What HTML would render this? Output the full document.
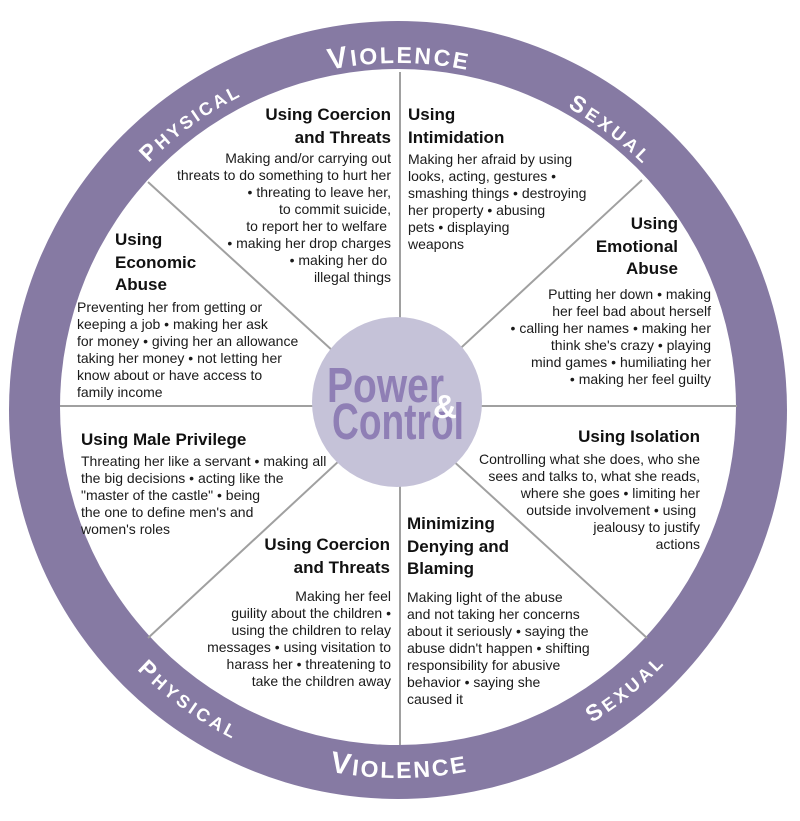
<!DOCTYPE html>
<html><head><meta charset="utf-8"><style>
html,body{margin:0;padding:0;background:#fff;}
#w{position:relative;width:800px;height:821px;overflow:hidden;font-family:"Liberation Sans",Arial,sans-serif;color:#1a1a1a;}
svg{position:absolute;left:0;top:0;}
.b{position:absolute;font-size:14px;line-height:17px;white-space:nowrap;letter-spacing:0;}
.t{font-size:17px;line-height:22.5px;font-weight:bold;letter-spacing:0;color:#111;}
.r{text-align:right;}
</style></head><body><div id="w">
<svg width="800" height="821" viewBox="0 0 800 821">
<circle cx="398" cy="410" r="389" fill="#867aa3"/>
<circle cx="398" cy="407" r="338" fill="#fff"/>
<g stroke="#a0a0a0" stroke-width="2">
<line x1="400" y1="72" x2="400" y2="745"/>
<line x1="60" y1="406" x2="737" y2="406"/>
<line x1="148" y1="182" x2="647" y2="638"/>
<line x1="642" y1="180" x2="148" y2="638"/>
</g>
<circle cx="397" cy="402" r="85" fill="#c5c2d8"/>
<text x="327" y="402" font-family="Liberation Sans, Arial, sans-serif" font-weight="bold" font-size="49" fill="#8f7fb5" textLength="117" lengthAdjust="spacingAndGlyphs">Power</text>
<text x="332" y="439" font-family="Liberation Sans, Arial, sans-serif" font-weight="bold" font-size="51" fill="#8f7fb5" textLength="132" lengthAdjust="spacingAndGlyphs">Control</text>
<text x="433" y="418" font-family="Liberation Sans, Arial, sans-serif" font-weight="bold" font-size="33" fill="#fff">&amp;</text>
<defs>
<path id="tv" d="M97.5 236.5 A347 347 0 0 1 698.5 236.5"/>
<path id="tp" d="M52.9 446.3 A343 343 0 0 1 539.1 93"/>
<path id="ts" d="M262.4 90.6 A347 347 0 0 1 742.4 452.3"/>
<path id="bv" d="M79.3 594 A368 368 0 0 0 716.7 594"/>
<path id="bp" d="M32 371.5 A368 368 0 0 0 547.7 746.2"/>
<path id="bs" d="M266.1 753.6 A368 368 0 0 0 761.5 352.4"/>
</defs>
<g font-family="Liberation Sans, Arial, sans-serif" font-weight="bold" fill="#fff">
<text font-size="23"><textPath href="#tv" startOffset="50%" text-anchor="middle" textLength="138"><tspan font-size="30">V</tspan>IOLENCE</textPath></text>
<text font-size="18"><textPath href="#tp" startOffset="50%" text-anchor="middle" textLength="114"><tspan font-size="23">P</tspan>HYSICAL</textPath></text>
<text font-size="18"><textPath href="#ts" startOffset="50%" text-anchor="middle" textLength="94"><tspan font-size="23">S</tspan>EXUAL</textPath></text>
<text font-size="23"><textPath href="#bv" startOffset="50%" text-anchor="middle" textLength="138"><tspan font-size="30">V</tspan>IOLENCE</textPath></text>
<text font-size="18"><textPath href="#bp" startOffset="50%" text-anchor="middle" textLength="118"><tspan font-size="23">P</tspan>HYSICAL</textPath></text>
<text font-size="18"><textPath href="#bs" startOffset="50%" text-anchor="middle" textLength="93"><tspan font-size="23">S</tspan>EXUAL</textPath></text>
</g>
</svg>

<div class="b t r" style="right:409px;top:104px;">Using Coercion<br>and Threats</div>
<div class="b r" style="right:409px;top:150px;">Making and/or carrying out<br>threats to do something to hurt her<br>• threating to leave her,<br>to commit suicide,<br>to report her to welfare&nbsp;<br>• making her drop charges<br>• making her do&nbsp;<br>illegal things</div>

<div class="b t" style="left:115px;top:229px;">Using<br>Economic<br>Abuse</div>
<div class="b" style="left:77px;top:299px;">Preventing her from getting or<br>keeping a job • making her ask<br>for money • giving her an allowance<br>taking her money • not letting her<br>know about or have access to<br>family income</div>

<div class="b t" style="left:408px;top:104px;">Using<br>Intimidation</div>
<div class="b" style="left:408px;top:151px;">Making her afraid by using<br>looks, acting, gestures •<br>smashing things • destroying<br>her property • abusing<br>pets • displaying<br>weapons</div>

<div class="b t r" style="right:122px;top:213px;">Using<br>Emotional<br>Abuse</div>
<div class="b r" style="right:89px;top:286px;">Putting her down • making<br>her feel bad about herself<br>• calling her names • making her<br>think she's crazy • playing<br>mind games • humiliating her<br>• making her feel guilty</div>

<div class="b t" style="left:81px;top:429px;">Using Male Privilege</div>
<div class="b" style="left:81px;top:453px;">Threating her like a servant • making all<br>the big decisions • acting like the<br>"master of the castle" • being<br>the one to define men's and<br>women's roles</div>

<div class="b t r" style="right:410px;top:534px;">Using Coercion<br>and Threats</div>
<div class="b r" style="right:409px;top:588px;">Making her feel<br>guility about the children •<br>using the children to relay<br>messages • using visitation to<br>harass her • threatening to<br>take the children away</div>

<div class="b t r" style="right:100px;top:426px;">Using Isolation</div>
<div class="b r" style="right:100px;top:451px;">Controlling what she does, who she<br>sees and talks to, what she reads,<br>where she goes • limiting her<br>outside involvement • using&nbsp;<br>jealousy to justify<br>actions</div>

<div class="b t" style="left:407px;top:513px;">Minimizing<br>Denying and<br>Blaming</div>
<div class="b" style="left:407px;top:589px;">Making light of the abuse<br>and not taking her concerns<br>about it seriously • saying the<br>abuse didn't happen • shifting<br>responsibility for abusive<br>behavior • saying she<br>caused it</div>
</div></body></html>
